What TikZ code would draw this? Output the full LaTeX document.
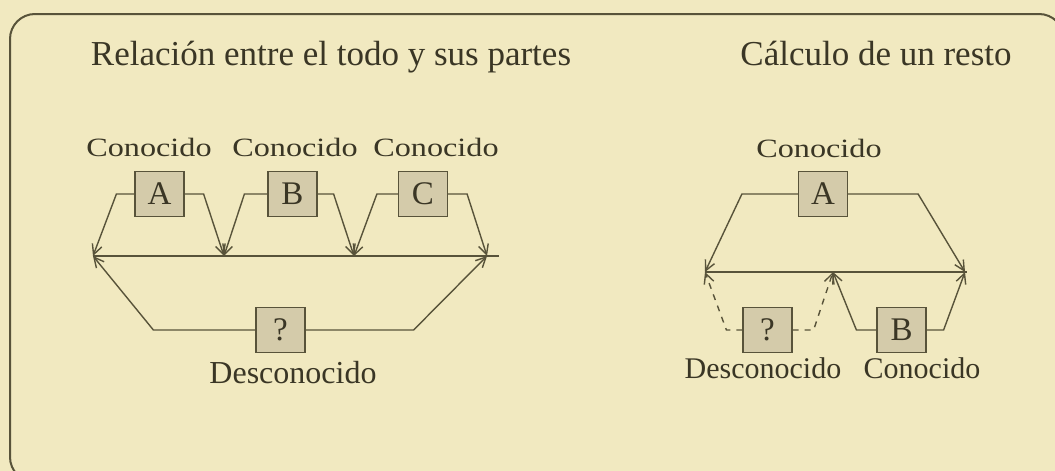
\documentclass[tikz,border=0pt]{standalone}
\usepackage{fontspec}
\setmainfont{Liberation Serif}
\newfontfamily\ancha{Liberation Serif}[FakeStretch=1.22]
\usetikzlibrary{arrows.meta}
\definecolor{papel}{RGB}{241,233,192}
\definecolor{relleno}{RGB}{212,203,170}
\definecolor{tinta}{RGB}{88,83,58}
\definecolor{letra}{RGB}{58,54,37}

\begin{document}
\begin{tikzpicture}[x=0.5pt,y=-0.5pt,
  titulo/.style={text=letra,font=\fontsize{17.5}{20}\selectfont,inner sep=0pt,anchor=base},
  etiq/.style={text=letra,font=\ancha\fontsize{13.2}{15}\selectfont,inner sep=0pt,anchor=base},
  etiqb/.style={text=letra,font=\fontsize{16}{18}\selectfont,inner sep=0pt,anchor=base},
  caja/.style={draw=tinta,fill=relleno,line width=0.6pt,minimum width=24.5pt,
    minimum height=22.5pt,inner sep=0pt,text=letra,font=\fontsize{16.5}{18}\selectfont},
  linea/.style={draw=tinta,line width=0.7pt},
  flecha/.style={linea,-{Straight Barb[length=5pt,width=5pt]}}]
\useasboundingbox (0,0) rectangle (1055,471);
\fill[papel] (0,0) rectangle (1055,471);
\clip (0,0) rectangle (1055,471);
\draw[tinta,line width=1pt,rounded corners=12.5pt] (10,14) rectangle (1064,482);

% titulos
\node[titulo] (t1) at (331,65) {Relación entre el todo y sus partes};
\node[titulo] (t2) at (876,65) {Cálculo de un resto};

% el todo y sus partes
\node[etiq] (k1) at (149,156) {Conocido};
\node[etiq] (k2) at (295,156) {Conocido};
\node[etiq] (k3) at (436,156) {Conocido};
\node[caja] (cA) at (159.5,194) {A};
\node[caja] (cB) at (292.5,194) {B};
\node[caja] (cC) at (423,194) {C};
\node[caja] (cQ) at (280.5,330) {?};
\node[etiqb] (kd) at (293,383) {Desconocido};

\coordinate (iz) at (93,256);
\coordinate (p1) at (224,256);
\coordinate (p2) at (354,256);
\coordinate (p3) at (487,256);
\coordinate (fin) at (499,256);
\draw[linea] (iz) -- (fin);

\draw[flecha] (cA.west) -- ++(-18,0) -- (iz);
\draw[flecha] (cA.east) -- ++(19,0) -- (p1);
\draw[flecha] (cB.west) -- ++(-23,0) -- (p1);
\draw[flecha] (cB.east) -- ++(16,0) -- (p2);
\draw[flecha] (cC.west) -- ++(-21,0) -- (p2);
\draw[flecha] (cC.east) -- ++(19,0) -- (p3);
\draw[flecha] (cQ.west) -- ++(-102,0) -- (iz);
\draw[flecha] (cQ.east) -- ++(108,0) -- (p3);

% calculo de un resto
\node[etiq] (m1) at (819,157) {Conocido};
\node[caja] (dA) at (823,194) {A};
\node[caja] (dQ) at (767.5,330) {?};
\node[caja] (dB) at (901.5,330) {B};
\node[etiqb,font=\fontsize{15}{17}\selectfont] (md) at (763,378) {Desconocido};
\node[etiqb,font=\fontsize{15}{17}\selectfont] (mc) at (922,378) {Conocido};

\coordinate (r0) at (705,272);
\coordinate (r1) at (833,272);
\coordinate (r2) at (965,272);
\draw[linea] (r0) -- ([xshift=1]r2);

\draw[flecha] (dA.west) -- ++(-56,0) -- (r0);
\draw[flecha] (dA.east) -- ++(70,0) -- (r2);
\draw[flecha,dash pattern=on 3pt off 3pt] (dQ.west) -- ++(-16,0) -- (r0);
\draw[flecha,dash pattern=on 3pt off 3pt] (dQ.east) -- ++(21,0) -- (r1);
\draw[flecha] (dB.west) -- ++(-20,0) -- (r1);
\draw[flecha] (dB.east) -- ++(17,0) -- (r2);
\end{tikzpicture}
\end{document}
